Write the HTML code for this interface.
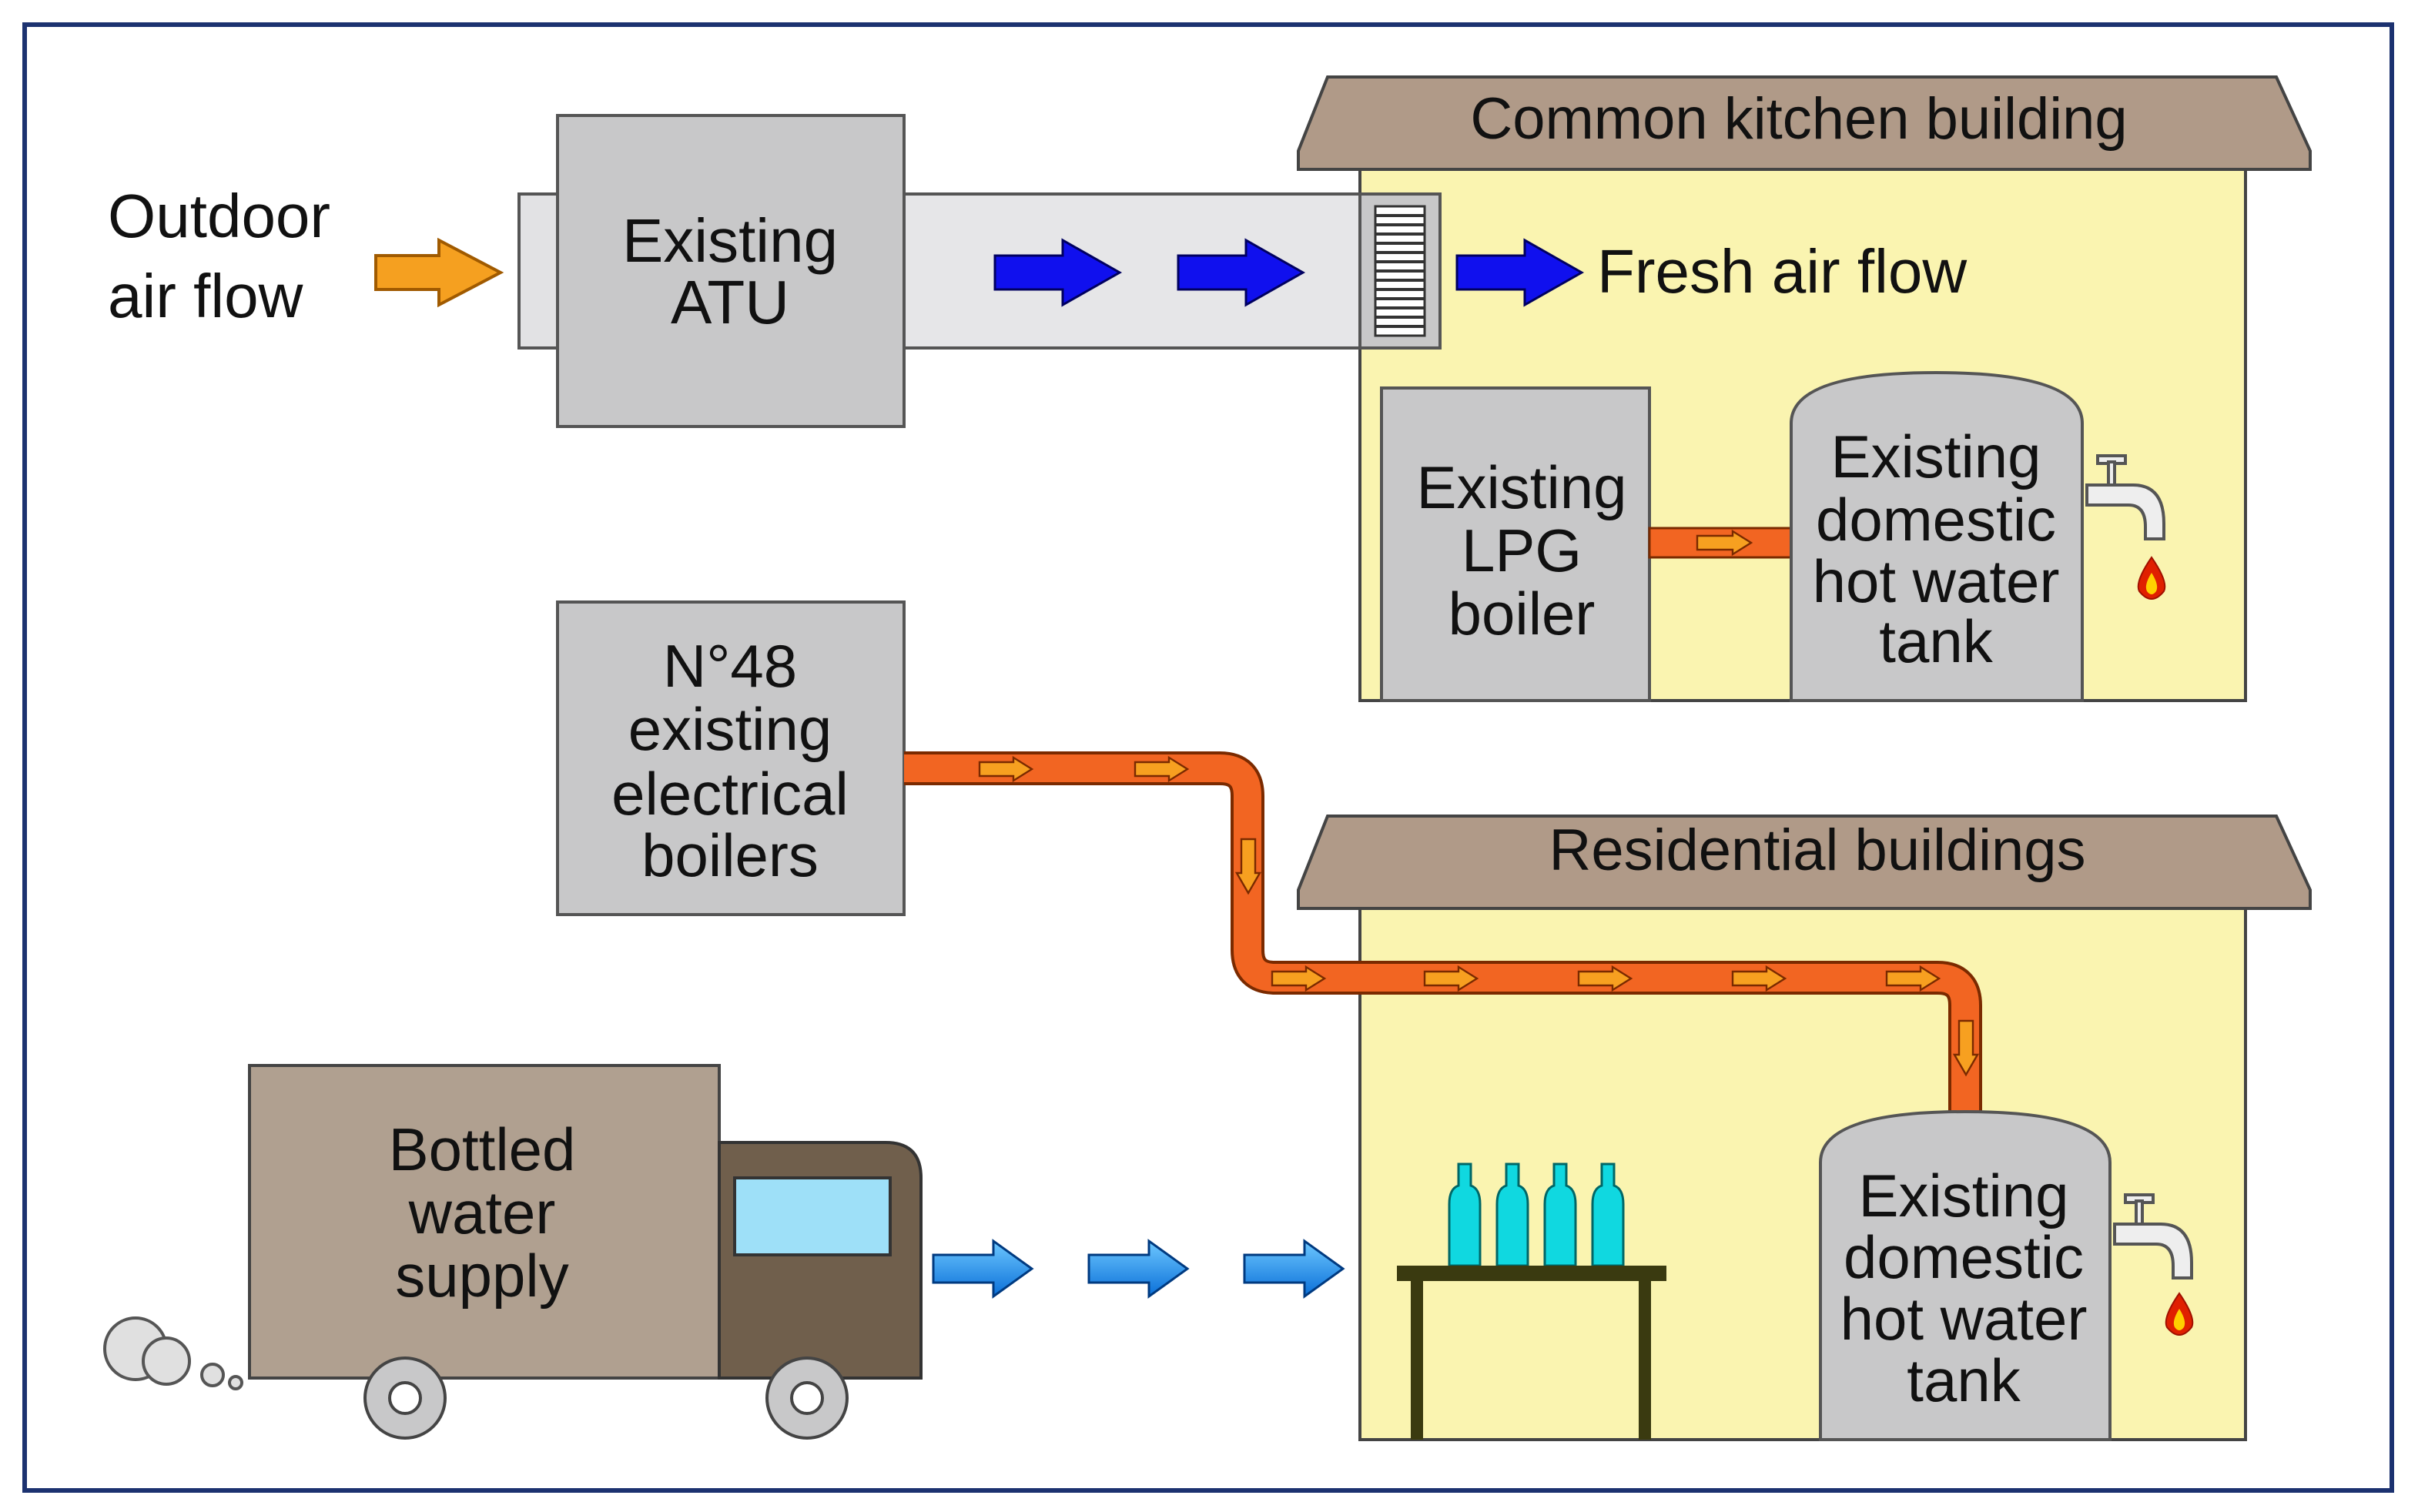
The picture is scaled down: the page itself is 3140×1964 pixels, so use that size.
<!DOCTYPE html>
<html><head><meta charset="utf-8"><style>
html,body{margin:0;padding:0;background:#fff;}
svg{display:block;}
text{font-family:"Liberation Sans",Arial,sans-serif;fill:#111;}
</style></head><body>
<svg width="3140" height="1964" viewBox="0 0 1570 982" xmlns="http://www.w3.org/2000/svg">
<defs>
<linearGradient id="bl" x1="0" y1="0" x2="0" y2="1"><stop offset="0" stop-color="#6ec8ff"/><stop offset="1" stop-color="#0a6fd8"/></linearGradient>
</defs>
<rect x="0" y="0" width="1570" height="982" fill="#fff"/>
<rect x="16" y="16" width="1537" height="952" fill="none" stroke="#1c3270" stroke-width="3"/>

<!-- Outdoor air -->
<text x="70" y="154" font-size="40">Outdoor</text>
<text x="70" y="206" font-size="40">air flow</text>
<polygon points="244,166 285,166 285,156 325,177 285,198 285,188 244,188" fill="#f5a020" stroke="#a05a00" stroke-width="2"/>

<!-- ATU -->
<rect x="337" y="126" width="25" height="100" fill="#e2e2e4" stroke="#555" stroke-width="2"/>
<rect x="587" y="126" width="296" height="100" fill="#e6e6e8" stroke="#555" stroke-width="2"/>
<rect x="362" y="75" width="225" height="202" fill="#c8c8c9" stroke="#555" stroke-width="2"/>
<text x="474" y="170" font-size="40" text-anchor="middle">Existing</text>
<text x="474" y="210" font-size="40" text-anchor="middle">ATU</text>
<g fill="#1010ee" stroke="#000060" stroke-width="1.5">
<polygon points="646,166 690,166 690,156 727,177 690,198 690,188 646,188"/>
<polygon points="765,166 809,166 809,156 846,177 809,198 809,188 765,188"/>
</g>

<!-- Kitchen building -->
<rect x="883" y="108" width="575" height="347" fill="#faf4b0" stroke="#444" stroke-width="2"/>
<polygon points="862,50 1478,50 1500,98 1500,110 843,110 843,98" fill="#b09a88" stroke="#444" stroke-width="2"/>
<text x="1168" y="90" font-size="38" text-anchor="middle">Common kitchen building</text>
<rect x="883" y="126" width="52" height="100" fill="#c8c8c9" stroke="#555" stroke-width="2"/>
<rect x="893" y="134" width="32" height="84" fill="#fff" stroke="#333" stroke-width="1.5"/>
<g stroke="#333" stroke-width="2">
<line x1="893" y1="140" x2="925" y2="140"/><line x1="893" y1="146" x2="925" y2="146"/><line x1="893" y1="152" x2="925" y2="152"/><line x1="893" y1="158" x2="925" y2="158"/><line x1="893" y1="164" x2="925" y2="164"/><line x1="893" y1="170" x2="925" y2="170"/><line x1="893" y1="176" x2="925" y2="176"/><line x1="893" y1="182" x2="925" y2="182"/><line x1="893" y1="188" x2="925" y2="188"/><line x1="893" y1="194" x2="925" y2="194"/><line x1="893" y1="200" x2="925" y2="200"/><line x1="893" y1="206" x2="925" y2="206"/><line x1="893" y1="212" x2="925" y2="212"/>
</g>
<polygon points="946,166 990,166 990,156 1027,177 990,198 990,188 946,188" fill="#1010ee" stroke="#000060" stroke-width="1.5"/>
<text x="1037" y="190" font-size="40">Fresh air flow</text>

<rect x="897" y="252" width="174" height="203" fill="#c8c8c9" stroke="#555" stroke-width="2"/>
<text x="988" y="330" font-size="39" text-anchor="middle">Existing</text>
<text x="988" y="371" font-size="39" text-anchor="middle">LPG</text>
<text x="988" y="412" font-size="39" text-anchor="middle">boiler</text>
<rect x="1071" y="343" width="92" height="19" fill="#f26522" stroke="#7a2a00" stroke-width="1.5"/>
<polygon points="1102,348 1125,348 1125,345 1137,352.5 1125,360 1125,357 1102,357" fill="#f7a020" stroke="#7a2a00" stroke-width="1.2"/>
<path d="M1163,455 V275 Q1163,242 1257,242 Q1352,242 1352,275 V455 Z" fill="#c8c8c9" stroke="#555" stroke-width="2"/>
<text x="1257" y="310" font-size="39" text-anchor="middle">Existing</text>
<text x="1257" y="351" font-size="39" text-anchor="middle">domestic</text>
<text x="1257" y="391" font-size="39" text-anchor="middle">hot water</text>
<text x="1257" y="430" font-size="39" text-anchor="middle">tank</text>
<g fill="#eee" stroke="#555" stroke-width="2">
<path d="M1355,315 H1385 Q1405,315 1405,340 V350 H1393 V342 Q1393,328 1382,328 H1355 Z"/>
<rect x="1362" y="296" width="18" height="5"/><rect x="1369" y="300" width="4" height="15"/>
</g>
<path d="M1397,362 Q1386,378 1389,384 Q1397,394 1405,384 Q1408,378 1397,362 Z" fill="#e02000" stroke="#a01000"/>
<path d="M1397,372 Q1392,380 1394,384 Q1397,388 1400,384 Q1402,380 1397,372 Z" fill="#ffd000"/>

<!-- Residential building -->
<rect x="883" y="588" width="575" height="347" fill="#faf4b0" stroke="#444" stroke-width="2"/>
<polygon points="862,530 1478,530 1500,578 1500,590 843,590 843,578" fill="#b09a88" stroke="#444" stroke-width="2"/>
<text x="1180" y="565" font-size="38" text-anchor="middle">Residential buildings</text>

<!-- N48 -->
<rect x="362" y="391" width="225" height="203" fill="#c8c8c9" stroke="#555" stroke-width="2"/>
<text x="474" y="446" font-size="39" text-anchor="middle">N°48</text>
<text x="474" y="487" font-size="39" text-anchor="middle">existing</text>
<text x="474" y="529" font-size="39" text-anchor="middle">electrical</text>
<text x="474" y="569" font-size="39" text-anchor="middle">boilers</text>

<!-- pipe -->
<path d="M587,499 H792 Q810,499 810,517 V617 Q810,635 828,635 H1258 Q1276,635 1276,653 V724" fill="none" stroke="#7a2a00" stroke-width="22"/>
<path d="M587,499 H792 Q810,499 810,517 V617 Q810,635 828,635 H1258 Q1276,635 1276,653 V724" fill="none" stroke="#f26522" stroke-width="18"/>
<g fill="#f7a020" stroke="#7a2a00" stroke-width="1.2">
<polygon points="636,495 658,495 658,492 670,499.5 658,507 658,504 636,504"/>
<polygon points="737,495 759,495 759,492 771,499.5 759,507 759,504 737,504"/>
<polygon points="826,631 848,631 848,628 860,635.5 848,643 848,640 826,640"/>
<polygon points="925,631 947,631 947,628 959,635.5 947,643 947,640 925,640"/>
<polygon points="1025,631 1047,631 1047,628 1059,635.5 1047,643 1047,640 1025,640"/>
<polygon points="1125,631 1147,631 1147,628 1159,635.5 1147,643 1147,640 1125,640"/>
<polygon points="1225,631 1247,631 1247,628 1259,635.5 1247,643 1247,640 1225,640"/>
<polygon points="806,545 815,545 815,567 818,567 810.5,580 803,567 806,567"/>
<polygon points="1272,663 1281,663 1281,685 1284,685 1276.5,698 1269,685 1272,685"/>
</g>

<path d="M1182,935 V755 Q1182,722 1276,722 Q1370,722 1370,755 V935 Z" fill="#c8c8c9" stroke="#555" stroke-width="2"/>
<text x="1275" y="790" font-size="39" text-anchor="middle">Existing</text>
<text x="1275" y="830" font-size="39" text-anchor="middle">domestic</text>
<text x="1275" y="870" font-size="39" text-anchor="middle">hot water</text>
<text x="1275" y="910" font-size="39" text-anchor="middle">tank</text>
<g fill="#eee" stroke="#555" stroke-width="2">
<path d="M1373,795 H1403 Q1423,795 1423,820 V830 H1411 V822 Q1411,808 1400,808 H1373 Z"/>
<rect x="1380" y="776" width="18" height="5"/><rect x="1387" y="780" width="4" height="15"/>
</g>
<path d="M1415,840 Q1404,856 1407,862 Q1415,872 1423,862 Q1426,856 1415,840 Z" fill="#e02000" stroke="#a01000"/>
<path d="M1415,850 Q1410,858 1412,862 Q1415,866 1418,862 Q1420,858 1415,850 Z" fill="#ffd000"/>

<!-- table & bottles -->
<g fill="#10d8e0" stroke="#066" stroke-width="1.5">
<path d="M941,822 V782 Q941,772 947,770 V756 H955 V770 Q961,772 961,782 V822 Z"/>
<path d="M972,822 V782 Q972,772 978,770 V756 H986 V770 Q992,772 992,782 V822 Z"/>
<path d="M1003,822 V782 Q1003,772 1009,770 V756 H1017 V770 Q1023,772 1023,782 V822 Z"/>
<path d="M1034,822 V782 Q1034,772 1040,770 V756 H1048 V770 Q1054,772 1054,782 V822 Z"/>
</g>
<rect x="907" y="822" width="175" height="10" fill="#3a3a10"/>
<rect x="916" y="832" width="8" height="103" fill="#3a3a10"/>
<rect x="1064" y="832" width="8" height="103" fill="#3a3a10"/>

<!-- truck -->
<rect x="162" y="692" width="305" height="203" fill="#b0a090" stroke="#444" stroke-width="2"/>
<path d="M467,742 H575 Q598,742 598,765 V895 H467 Z" fill="#705f4c" stroke="#333" stroke-width="2"/>
<rect x="477" y="765" width="101" height="50" fill="#9ee0f8" stroke="#333" stroke-width="2"/>
<text x="313" y="760" font-size="39" text-anchor="middle">Bottled</text>
<text x="313" y="801" font-size="39" text-anchor="middle">water</text>
<text x="313" y="842" font-size="39" text-anchor="middle">supply</text>
<g stroke="#444" stroke-width="2">
<circle cx="263" cy="908" r="26" fill="#c8c8c9"/><circle cx="263" cy="908" r="10" fill="#fff"/>
<circle cx="524" cy="908" r="26" fill="#c8c8c9"/><circle cx="524" cy="908" r="10" fill="#fff"/>
</g>
<g fill="#e0e0e0" stroke="#555" stroke-width="2">
<circle cx="88" cy="876" r="20"/><circle cx="108" cy="884" r="15"/>
<circle cx="138" cy="893" r="7"/><circle cx="153" cy="898" r="4"/>
</g>
<g fill="url(#bl)" stroke="#003a80" stroke-width="1.5">
<polygon points="606,815 645,815 645,806 670,824 645,842 645,833 606,833"/>
<polygon points="707,815 746,815 746,806 771,824 746,842 746,833 707,833"/>
<polygon points="808,815 847,815 847,806 872,824 847,842 847,833 808,833"/>
</g>
</svg>
</body></html>
